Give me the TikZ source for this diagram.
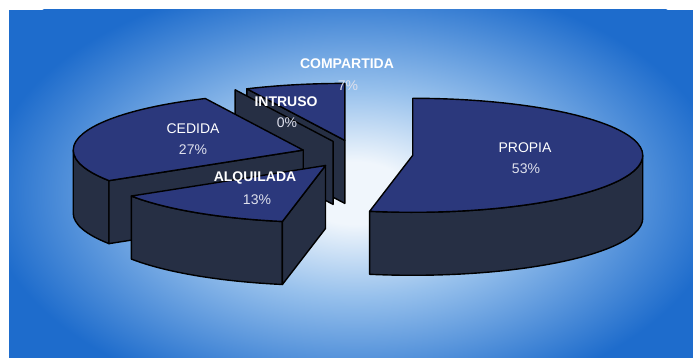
\documentclass[tikz,border=0pt]{standalone}
\usepackage{fontspec}
\setmainfont{Liberation Sans}
\definecolor{bgblue}{RGB}{30,108,204}
\definecolor{glowA}{RGB}{240,246,252}
\definecolor{glowB}{RGB}{150,192,236}
\definecolor{topc}{RGB}{43,56,124}
\definecolor{sidec}{RGB}{38,47,68}
\definecolor{pctc}{RGB}{222,224,236}
\pgfdeclareradialshading{glow}{\pgfpoint{0bp}{0bp}}{color(0bp)=(glowA); color(3bp)=(glowA); color(10bp)=(glowB); color(21bp)=(bgblue); color(25bp)=(bgblue); color(50bp)=(bgblue)}
\tikzset{
  top/.style={fill=topc, draw=black, line width=1.4pt, line join=round},
  side/.style={fill=sidec, draw=black, line width=1.4pt, line join=round},
  lbl/.style={text=white, font=\fontsize{14}{16}\selectfont, inner sep=0pt},
  lblb/.style={text=white, font=\fontsize{14}{16}\selectfont\bfseries, inner sep=0pt},
  pct/.style={text=pctc, font=\fontsize{14}{16}\selectfont, inner sep=0pt}
}
\begin{document}
\begin{tikzpicture}[x=1pt,y=1pt]
\useasboundingbox (0,0) rectangle (693,358);
\fill[white] (0,0) rectangle (693,358);
\begin{scope}
  \clip (9,0) rectangle (693,348);
  \fill[bgblue] (9,0) rectangle (693,348);
  \shade[shading=glow] (355,165) ellipse (440pt and 260pt);
\end{scope}
% slice centres
\coordinate (Cpro) at (412.75,202.7);
\coordinate (Calq) at (325.5,192.5);
\coordinate (Cced) at (303.2,207.9);
\coordinate (Cint) at (333.1,216.6);
\coordinate (Ccom) at (344.8,217.6);
% COMPARTIDA
\filldraw[side] (Ccom) -- ++(115.2:230pt and 57pt) -- ++(0,-63) -- ([yshift=-63pt]Ccom) -- cycle;
\filldraw[top] (Ccom) -- ++(90:230pt and 57pt) arc[start angle=90,end angle=115.2,x radius=230pt,y radius=57pt] -- cycle;
% INTRUSO
\filldraw[side] (Cint) -- ++(115.2:230pt and 57pt) -- ++(0,-63) -- ([yshift=-63pt]Cint) -- cycle;
% CEDIDA
\filldraw[side] (Cced) ++(180:230pt and 57pt) arc[start angle=180,end angle=212.4,x radius=230pt,y radius=57pt] -- ++(0,-63) arc[start angle=212.4,end angle=180,x radius=230pt,y radius=57pt] -- cycle;
\filldraw[side] (Cced) -- ++(212.4:230pt and 57pt) -- ++(0,-63) -- ([yshift=-63pt]Cced) -- cycle;
\filldraw[top] (Cced) -- ++(115.2:230pt and 57pt) arc[start angle=115.2,end angle=212.4,x radius=230pt,y radius=57pt] -- cycle;
% ALQUILADA
\filldraw[side] (Calq) ++(212.4:230pt and 57pt) arc[start angle=212.4,end angle=259.2,x radius=230pt,y radius=57pt] -- ++(0,-63) arc[start angle=259.2,end angle=212.4,x radius=230pt,y radius=57pt] -- cycle;
\filldraw[side] (Calq) -- ++(259.2:230pt and 57pt) -- ++(0,-63) -- ([yshift=-63pt]Calq) -- cycle;
\filldraw[top] (Calq) -- ++(212.4:230pt and 57pt) arc[start angle=212.4,end angle=259.2,x radius=230pt,y radius=57pt] -- cycle;
% PROPIA
\filldraw[side] (Cpro) ++(-100.8:230pt and 57pt) arc[start angle=-100.8,end angle=0,x radius=230pt,y radius=57pt] -- ++(0,-63) arc[start angle=0,end angle=-100.8,x radius=230pt,y radius=57pt] -- cycle;
\filldraw[top] (Cpro) -- ++(-100.8:230pt and 57pt) arc[start angle=-100.8,end angle=90,x radius=230pt,y radius=57pt] -- cycle;
% labels
\node[lblb] (tcom) at (347,294) {COMPARTIDA};
\node[pct]  (pcom) at (348,272) {7\%};
\node[lblb] (tint) at (286,256) {INTRUSO};
\node[pct]  (pint) at (287,235) {0\%};
\node[lbl]  (tced) at (193,229) {CEDIDA};
\node[pct]  (pced) at (193,208) {27\%};
\node[lblb] (talq) at (255,180) {ALQUILADA};
\node[pct]  (palq) at (257,158) {13\%};
\node[lbl]  (tpro) at (525,210) {PROPIA};
\node[pct]  (ppro) at (526,189) {53\%};
\end{tikzpicture}
\end{document}
